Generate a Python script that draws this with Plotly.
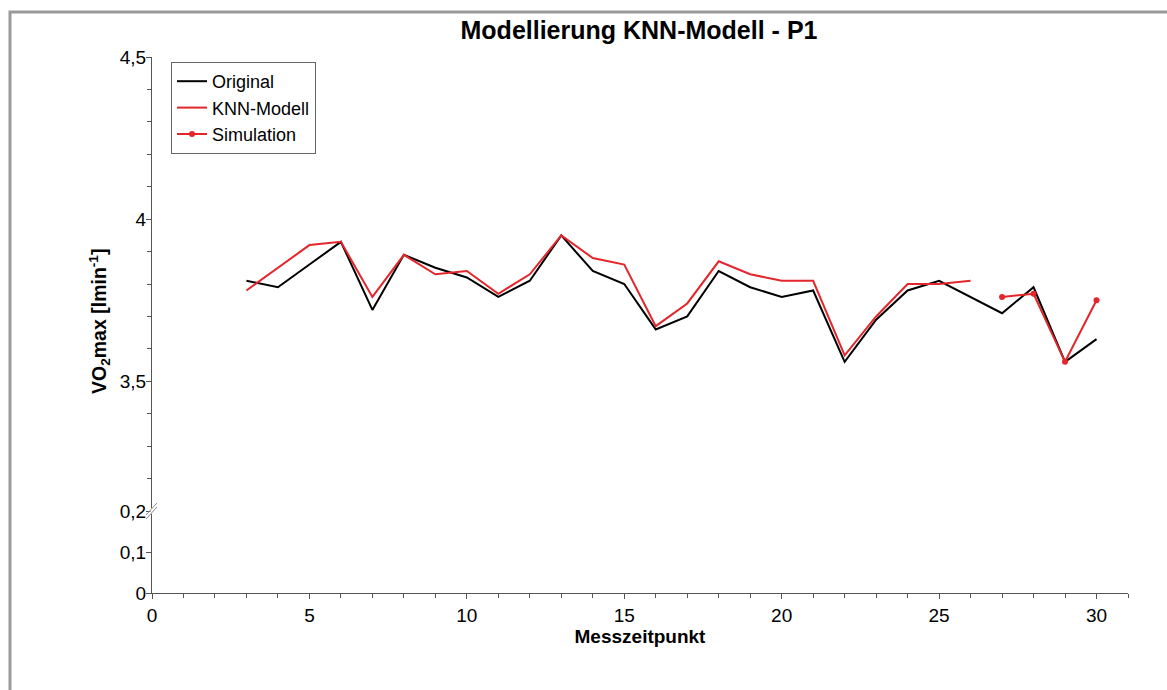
import plotly.graph_objects as go

# ---------------- data ----------------
x_original = [3, 4, 5, 6, 7, 8, 9, 10, 11, 12, 13, 14, 15, 16, 17, 18, 19, 20, 21, 22, 23, 24, 25, 26, 27, 28, 29, 30]
y_original = [3.81, 3.79, 3.86, 3.93, 3.72, 3.89, 3.85, 3.82, 3.76, 3.81, 3.95, 3.84, 3.80, 3.66, 3.70, 3.84,
              3.79, 3.76, 3.78, 3.56, 3.69, 3.78, 3.81, 3.76, 3.71, 3.79, 3.56, 3.63]

x_knn = [3, 4, 5, 6, 7, 8, 9, 10, 11, 12, 13, 14, 15, 16, 17, 18, 19, 20, 21, 22, 23, 24, 25, 26]
y_knn = [3.78, 3.85, 3.92, 3.93, 3.76, 3.89, 3.83, 3.84, 3.77, 3.83, 3.95, 3.88, 3.86, 3.67, 3.74, 3.87,
         3.83, 3.81, 3.81, 3.58, 3.70, 3.80, 3.80, 3.81]

x_sim = [27, 28, 29, 30]
y_sim = [3.76, 3.77, 3.56, 3.75]

x_ticks_major = 5
y_upper_range = [3.1, 4.5]
y_lower_range = [0, 0.2]
x_range = [0, 31]

title_text = "Modellierung KNN-Modell - P1"
x_title = "Messzeitpunkt"
y_title = "<b>VO<sub>2</sub>max [lmin<sup>-1</sup>]</b>"

# ---------------- layout geometry ----------------
W, H = 1167, 690
ML, MR, MT, MB = 152, 39, 57, 97
PW, PH = W - ML - MR, H - MT - MB
BREAK_PX = 511  # pixel y of axis break
lower_top = (H - MB - BREAK_PX) / PH

def px(xp):
    return (xp - ML) / PW

def py(yp):
    return (H - MB - yp) / PH

FONT = "Liberation Sans, Arial, sans-serif"
AX = "#555555"
RED = "#e3262b"

fig = go.Figure()
fig.add_trace(go.Scatter(x=x_original, y=y_original, name="Original", mode="lines",
                         line=dict(color="black", width=2), xaxis="x", yaxis="y2"))
fig.add_trace(go.Scatter(x=x_knn, y=y_knn, name="KNN-Modell", mode="lines",
                         line=dict(color=RED, width=2), xaxis="x", yaxis="y2"))
fig.add_trace(go.Scatter(x=x_sim, y=y_sim, name="Simulation", mode="lines+markers",
                         line=dict(color=RED, width=2), marker=dict(color=RED, size=6),
                         xaxis="x", yaxis="y2"))
# empty trace so the lower (0 - 0,2) axis segment is created
fig.add_trace(go.Scatter(x=[], y=[], xaxis="x", yaxis="y", showlegend=False, hoverinfo="skip"))

common_axis = dict(showline=True, linecolor=AX, linewidth=1, ticks="outside", tickcolor=AX,
                   ticklen=5, tickwidth=1, showgrid=False, zeroline=False,
                   tickfont=dict(family=FONT, size=19, color="black"))

fig.update_layout(
    width=W, height=H,
    margin=dict(l=ML, r=MR, t=MT, b=MB),
    paper_bgcolor="white", plot_bgcolor="white",
    separators=",.",
    font=dict(family=FONT, color="black"),
    title=dict(text="<b>" + title_text + "</b>", x=(ML + PW / 2 - 1) / W, xanchor="center",
               y=1 - 30 / H, yanchor="middle", font=dict(family=FONT, size=25, color="black")),
    showlegend=True,
    legend=dict(x=px(171), y=py(62), xanchor="left", yanchor="top",
                bordercolor="#666666", borderwidth=1, bgcolor="white",
                font=dict(family=FONT, size=18, color="black"),
                itemwidth=30, tracegroupgap=0),
    xaxis=dict(range=x_range, dtick=x_ticks_major, tick0=0, anchor="y",
               minor=dict(dtick=1, ticklen=4, tickcolor=AX, ticks="outside"),
               title=dict(text="<b>" + x_title + "</b>", font=dict(family=FONT, size=19, color="black"),
                          standoff=4),
               **common_axis),
    yaxis=dict(range=y_lower_range, dtick=0.1, tick0=0, domain=[0, lower_top], anchor="x",
               ticklabelstandoff=-4, **common_axis),
    yaxis2=dict(range=y_upper_range, dtick=0.5, tick0=0, domain=[lower_top, 1], anchor="x",
                minor=dict(dtick=0.1, tick0=0, ticklen=4, tickcolor=AX, ticks="outside"),
                ticklabelstandoff=-4, **common_axis),
)

# y-axis title as rotated annotation (centered on full plot height)
fig.add_annotation(text=y_title, xref="paper", yref="paper", x=px(99), y=py(322),
                   textangle=-90, showarrow=False, xanchor="center", yanchor="middle",
                   font=dict(family=FONT, size=19.5, color="black"))

shapes = []
# outer gray frame (top & left visible)
shapes.append(dict(type="rect", xref="paper", yref="paper", x0=px(10), y0=py(H + 50), x1=px(W + 50), y1=py(12),
                   line=dict(color="#9a9a9a", width=3), fillcolor="rgba(0,0,0,0)", layer="above"))
# axis-break marker
shapes.append(dict(type="line", xref="paper", yref="paper", x0=px(ML), y0=py(BREAK_PX + 3), x1=px(ML), y1=py(BREAK_PX - 3),
                   line=dict(color="white", width=3), layer="above"))
for off in (-2, 2):
    shapes.append(dict(type="line", xref="paper", yref="paper",
                       x0=px(ML - 6), y0=py(BREAK_PX + 6 + off), x1=px(ML + 5), y1=py(BREAK_PX - 6 + off),
                       line=dict(color="#888888", width=1), layer="above"))
fig.update_layout(shapes=shapes)

fig.write_html("out.html", config={"displayModeBar": False},
               post_script="document.body.style.margin='0';")
